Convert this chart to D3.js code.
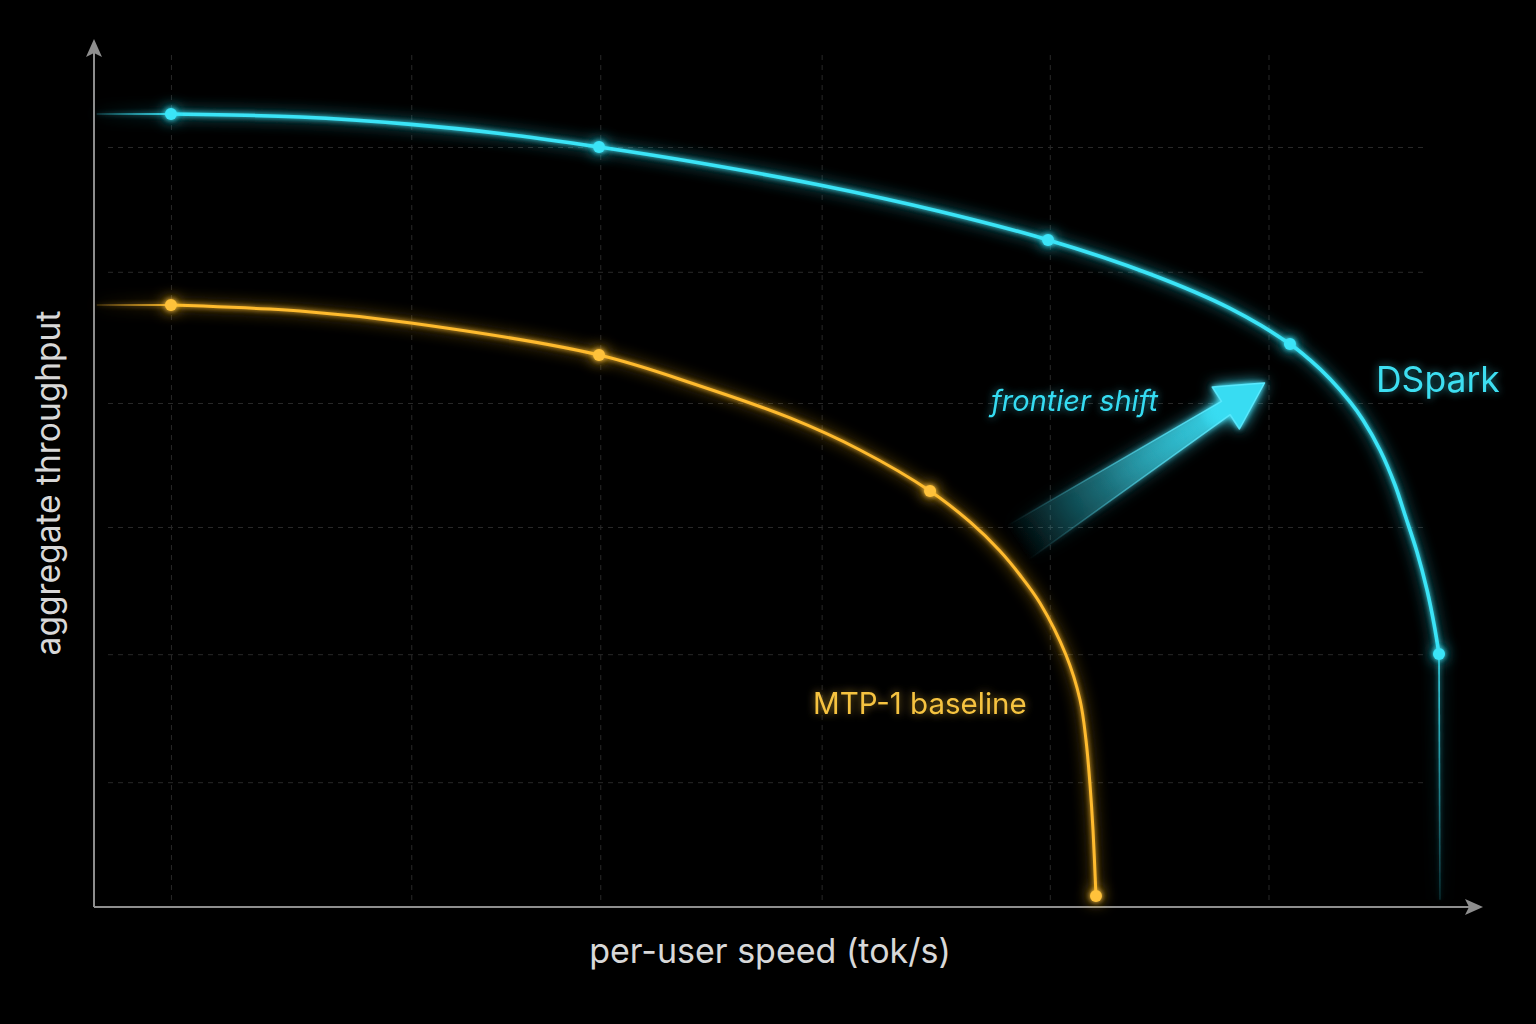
<!DOCTYPE html>
<html>
<head>
<meta charset="utf-8">
<script src="https://cdn.jsdelivr.net/npm/d3@7"></script>
<style>
  html, body { margin: 0; padding: 0; background: #000; }
  svg { display: block; }
  text { font-family: Inter, "Noto Sans", sans-serif; }
</style>
</head>
<body>
<div id="chart"></div>
<script>
// Values. Both axes are relative units (0-100), the chart has no tick labels.
// DSpark frontier, from the first marker to the last one
const dsparkCurve = [
    [5.70, 99.13], [15.26, 98.75], [23.48, 97.83], [30.07, 96.69], [37.41, 95.0],
    [44.89, 93.0], [53.93, 90.19], [62.67, 86.94], [70.67, 83.38], [78.22, 79.13],
    [84.15, 74.83], [88.59, 70.38], [90.07, 68.38], [91.56, 66.0], [93.04, 63.13],
    [94.0, 60.88], [95.26, 57.13], [96.37, 52.75], [97.11, 49.0], [98.0, 44.38],
    [98.74, 39.63], [99.26, 35.38], [99.63, 31.63]
];
const dsparkPoints = [[5.70, 99.13], [37.41, 95.0], [70.67, 83.38], [88.59, 70.38], [99.63, 31.63]];
const dsparkLead = [[0.2, 99.13], [5.70, 99.13]];
const dsparkTail = [[99.63, 31.63], [99.7, 0.9]];

// MTP-1 baseline frontier
const mtpCurve = [
    [5.70, 75.25], [15.26, 74.5], [23.48, 73.0], [37.41, 69.0], [44.89, 65.13],
    [51.56, 61.13], [56.74, 57.13], [61.93, 52.0], [64.89, 48.13], [67.11, 44.5],
    [68.59, 41.5], [70.07, 38.0], [72.0, 31.5], [73.04, 25.88], [73.48, 20.88],
    [73.78, 15.25], [74.0, 9.63], [74.22, 1.38]
];
const mtpPoints = [[5.70, 75.25], [37.41, 69.0], [61.93, 52.0], [74.22, 1.38]];
const mtpLead = [[0.2, 75.25], [5.70, 75.25]];

// faint grid positions
const xGridTicks = [5.7, 23.5, 37.5, 53.9, 70.8, 87.0];
const yGridTicks = [95, 79.4, 63, 47.5, 31.6, 15.6];

// "frontier shift" arrow: tail and tip
const shiftArrow = [[68.4, 45.5], [86.7, 65.5]];

const W = 1536, H = 1024;
const cyan = "#3ae4f7", orange = "#ffbb2e";

const svg = d3.select("#chart").append("svg")
    .attr("width", W).attr("height", H)
    .style("background", "#000");

const x = d3.scaleLinear().domain([0, 100]).range([94, 1444]);
const y = d3.scaleLinear().domain([0, 100]).range([907, 107]);

const defs = svg.append("defs");

function glowFilter(id, wide, near) {
    const f = defs.append("filter").attr("id", id)
        .attr("filterUnits", "userSpaceOnUse")
        .attr("x", 0).attr("y", 0).attr("width", W).attr("height", H);
    f.append("feGaussianBlur").attr("in", "SourceGraphic").attr("stdDeviation", wide).attr("result", "wide");
    f.append("feGaussianBlur").attr("in", "SourceGraphic").attr("stdDeviation", near).attr("result", "near");
    const m = f.append("feMerge");
    m.append("feMergeNode").attr("in", "wide");
    m.append("feMergeNode").attr("in", "near");
    m.append("feMergeNode").attr("in", "SourceGraphic");
}
glowFilter("glow", 7.5, 2.5);

// softer glow for text
const tf = defs.append("filter").attr("id", "textGlow")
    .attr("filterUnits", "userSpaceOnUse")
    .attr("x", 0).attr("y", 0).attr("width", W).attr("height", H);
tf.append("feGaussianBlur").attr("in", "SourceGraphic").attr("stdDeviation", 4).attr("result", "b");
tf.append("feComponentTransfer").attr("in", "b").attr("result", "bf")
    .append("feFuncA").attr("type", "linear").attr("slope", 0.6);
const tm = tf.append("feMerge");
tm.append("feMergeNode").attr("in", "bf");
tm.append("feMergeNode").attr("in", "SourceGraphic");

// grid
const gridX = svg.append("g")
    .attr("transform", `translate(0,900)`)
    .call(d3.axisBottom(x).tickValues(xGridTicks).tickSize(-845).tickFormat(""));
const gridY = svg.append("g")
    .attr("transform", `translate(108,0)`)
    .call(d3.axisLeft(y).tickValues(yGridTicks).tickSize(-1319).tickFormat(""));
[gridX, gridY].forEach(g => {
    g.select(".domain").remove();
    g.selectAll(".tick line")
        .attr("stroke", "#282828")
        .attr("stroke-width", 1)
        .attr("stroke-dasharray", "5 5");
});

// axes with arrow heads
const axisColor = "#8e8e8e";
svg.append("line")
    .attr("x1", x(0)).attr("y1", y(0)).attr("x2", x(0)).attr("y2", 52)
    .attr("stroke", axisColor).attr("stroke-width", 2);
svg.append("path")
    .attr("d", `M${x(0)},39 L${x(0) + 8},57 L${x(0)},53 L${x(0) - 8},57 Z`)
    .attr("fill", axisColor);
svg.append("line")
    .attr("x1", x(0)).attr("y1", y(0)).attr("x2", 1470).attr("y2", y(0))
    .attr("stroke", axisColor).attr("stroke-width", 2);
svg.append("path")
    .attr("d", `M1483,${y(0)} L1465,${y(0) - 8} L1469,${y(0)} L1465,${y(0) + 8} Z`)
    .attr("fill", axisColor);

// axis titles
svg.append("text")
    .attr("transform", `translate(60,${483}) rotate(-90)`)
    .attr("text-anchor", "middle")
    .attr("fill", "#d8d8d8")
    .attr("font-size", 33.5)
    .text("aggregate throughput");
svg.append("text")
    .attr("x", 770).attr("y", 963)
    .attr("text-anchor", "middle")
    .attr("fill", "#d8d8d8")
    .attr("font-size", 34)
    .text("per-user speed (tok/s)");

const line = d3.line()
    .x(d => x(d[0])).y(d => y(d[1]))
    .curve(d3.curveCatmullRom.alpha(0.5));

// faded lead-in / tail segments
function fadeSegment(id, pts, color, x1, y1, x2, y2, width) {
    const g = defs.append("linearGradient").attr("id", id)
        .attr("gradientUnits", "userSpaceOnUse")
        .attr("x1", x1).attr("y1", y1).attr("x2", x2).attr("y2", y2);
    g.append("stop").attr("offset", 0).attr("stop-color", color).attr("stop-opacity", 0.15);
    g.append("stop").attr("offset", 1).attr("stop-color", color).attr("stop-opacity", 0.9);
    svg.append("path")
        .attr("d", d3.line().x(d => x(d[0])).y(d => y(d[1]))(pts))
        .attr("fill", "none")
        .attr("stroke", `url(#${id})`)
        .attr("stroke-width", width)
        .attr("filter", "url(#glow)");
}
fadeSegment("dsLead", dsparkLead, cyan, x(dsparkLead[0][0]), 0, x(dsparkLead[1][0]), 0, 2);
fadeSegment("mtpLead", mtpLead, orange, x(mtpLead[0][0]), 0, x(mtpLead[1][0]), 0, 2);
fadeSegment("dsTail", dsparkTail, cyan, 0, y(dsparkTail[1][1]), 0, y(dsparkTail[0][1]), 1.6);

// the shift arrow
const tail = [x(shiftArrow[0][0]), y(shiftArrow[0][1])];
const tip = [x(shiftArrow[1][0]), y(shiftArrow[1][1])];
const len = Math.hypot(tip[0] - tail[0], tip[1] - tail[1]);
const ux = (tip[0] - tail[0]) / len, uy = (tip[1] - tail[1]) / len;
const nx = -uy, ny = ux;
const headLen = 46, headHW = 25, neckHW = 8, tailHW = 20;
const neck = [tip[0] - ux * headLen, tip[1] - uy * headLen];
const arrowPts = [
    [tail[0] + nx * tailHW, tail[1] + ny * tailHW],
    [neck[0] + nx * neckHW, neck[1] + ny * neckHW],
    [neck[0] + nx * headHW, neck[1] + ny * headHW],
    tip,
    [neck[0] - nx * headHW, neck[1] - ny * headHW],
    [neck[0] - nx * neckHW, neck[1] - ny * neckHW],
    [tail[0] - nx * tailHW, tail[1] - ny * tailHW]
];
const ag = defs.append("linearGradient").attr("id", "arrowFill")
    .attr("gradientUnits", "userSpaceOnUse")
    .attr("x1", tail[0]).attr("y1", tail[1]).attr("x2", tip[0]).attr("y2", tip[1]);
[[0, 0], [0.35, 0.2], [0.75, 0.55], [0.82, 1], [1, 1]].forEach(s => {
    ag.append("stop").attr("offset", s[0]).attr("stop-color", "#38dcf2").attr("stop-opacity", s[1]);
});
const as = defs.append("linearGradient").attr("id", "arrowStroke")
    .attr("gradientUnits", "userSpaceOnUse")
    .attr("x1", tail[0]).attr("y1", tail[1]).attr("x2", tip[0]).attr("y2", tip[1]);
[[0, 0], [0.4, 0.5], [1, 1]].forEach(s => {
    as.append("stop").attr("offset", s[0]).attr("stop-color", "#5aeaff").attr("stop-opacity", s[1]);
});
svg.append("path")
    .attr("d", "M" + arrowPts.map(p => p.join(",")).join("L") + "Z")
    .attr("fill", "url(#arrowFill)")
    .attr("stroke", "url(#arrowStroke)")
    .attr("stroke-width", 1.5)
    .attr("stroke-linejoin", "round")
    .attr("filter", "url(#glow)");

// frontier curves
svg.append("path")
    .datum(mtpCurve)
    .attr("d", line)
    .attr("fill", "none")
    .attr("stroke", orange)
    .attr("stroke-width", 3)
    .attr("filter", "url(#glow)");
svg.append("path")
    .datum(dsparkCurve)
    .attr("d", line)
    .attr("fill", "none")
    .attr("stroke", cyan)
    .attr("stroke-width", 3.6)
    .attr("filter", "url(#glow)");

// markers
svg.append("g").selectAll("circle")
    .data(mtpPoints)
    .enter()
    .append("circle")
    .attr("cx", d => x(d[0]))
    .attr("cy", d => y(d[1]))
    .attr("r", 6)
    .attr("fill", "#ffc23a")
    .attr("filter", "url(#glow)");
svg.append("g").selectAll("circle")
    .data(dsparkPoints)
    .enter()
    .append("circle")
    .attr("cx", d => x(d[0]))
    .attr("cy", d => y(d[1]))
    .attr("r", 6)
    .attr("fill", cyan)
    .attr("filter", "url(#glow)");

// labels
svg.append("text")
    .attr("x", 1376).attr("y", 392)
    .attr("fill", "#3ddff2")
    .attr("font-size", 35.5)
    .attr("filter", "url(#textGlow)")
    .text("DSpark");
svg.append("text")
    .attr("x", 991).attr("y", 411)
    .attr("fill", "#36dcf2")
    .attr("font-size", 29)
    .attr("font-style", "italic")
    .attr("filter", "url(#textGlow)")
    .text("frontier shift");
svg.append("text")
    .attr("x", 813).attr("y", 714)
    .attr("fill", "#f6c340")
    .attr("font-size", 29.5)
    .attr("filter", "url(#textGlow)")
    .text("MTP-1 baseline");
</script>
</body>
</html>
